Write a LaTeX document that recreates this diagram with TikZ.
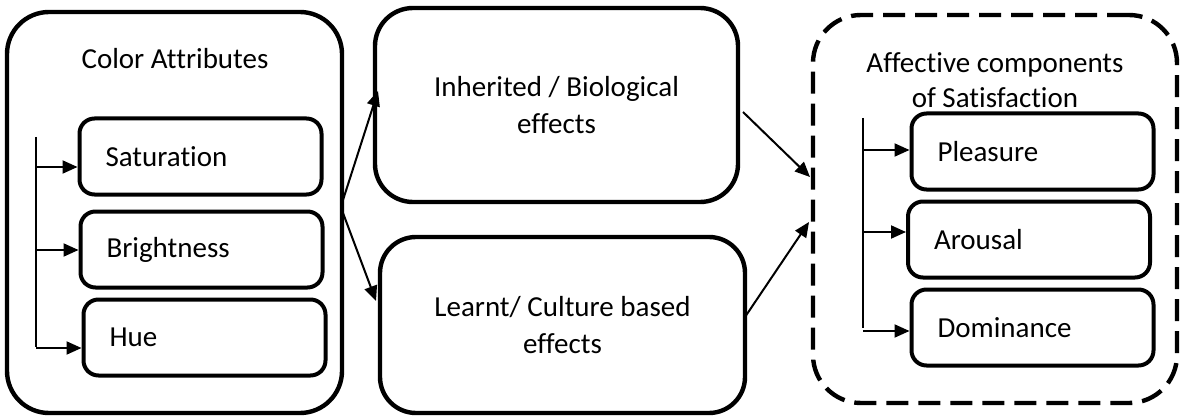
\documentclass[tikz,border=0pt]{standalone}
\usepackage{fontspec}
\setmainfont{Carlito}[Ligatures=NoCommon]
\usetikzlibrary{arrows.meta}
\begin{document}
\begin{tikzpicture}[x=1pt,y=-1pt,
  txt/.style={font=\fontsize{29}{35}\selectfont, inner sep=0pt},
  outerbox/.style={draw, line width=4.4pt, rounded corners=42pt, inner sep=0pt, font=\fontsize{29}{37}\selectfont, align=center},
  dashbox/.style={draw, line width=4.4pt, rounded corners=48pt, inner sep=0pt, dash pattern=on 22pt off 10pt},
  itembox/.style={draw, line width=4pt, rounded corners=15pt, inner ysep=0pt, inner xsep=26pt,
     text width=190pt, minimum height=76pt, align=left, font=\fontsize{29}{36}\selectfont},
  arr/.style={line width=2pt, -{Triangle[length=15pt,width=13pt]}},
  thin/.style={line width=1.3pt}
]
\useasboundingbox (0,0) rectangle (1181,417);

% left container
\node[outerbox, minimum width=335pt, minimum height=401pt] (lb) at (174.5,212.5) {};
\node[txt, anchor=base] (lbt) at (175,69) {Color Attributes};
\node[itembox] (sat) at (200.5,156.5) {Saturation};
\node[itembox] (bri) at (201.5,249.5) {Brightness};
\node[itembox] (hue) at (204.5,337.5) {Hue};

% middle boxes
\node[outerbox, rounded corners=38pt, minimum width=363pt, minimum height=194pt] (mt) at (556.5,105) {Inherited / Biological\\effects};
\node[outerbox, rounded corners=36pt, minimum width=365pt, minimum height=176pt] (mb) at (562.5,325) {Learnt/ Culture based\\effects};

% right container
\node[dashbox, minimum width=364pt, minimum height=388pt] (rb) at (995,209) {};
\node[txt, align=center, anchor=base] (rbt) at (995,108) {Affective components\\of Satisfaction};
\node[itembox] (ple) at (1032.5,151.5) {Pleasure};
\node[itembox] (aro) at (1029,239.5) {Arousal};
\node[itembox] (dom) at (1032.5,327.5) {Dominance};

% left fork
\coordinate (lv1) at (36,137);
\coordinate (lv2) at (36,347);
\draw[thin] (lv1) -- (lv2);
\coordinate (la1) at (36,167);
\coordinate (la2) at (35,250);
\coordinate (la3) at (36,348);
\draw[arr] (la1) -- (la1 -| sat.west);
\draw[arr] (la2) -- (la2 -| bri.west);
\draw[arr] (la3) -- (la3 -| hue.west);

% right fork
\coordinate (rv1) at (863,118);
\coordinate (rv2) at (863,328);
\draw[thin] (rv1) -- (rv2);
\coordinate (ra1) at (863,150);
\coordinate (ra2) at (862,232);
\coordinate (ra3) at (863,331);
\draw[arr] (ra1) -- (ra1 -| ple.west);
\draw[arr] (ra2) -- (ra2 -| aro.west);
\draw[arr] (ra3) -- (ra3 -| dom.west);

% left to middle
\coordinate (f1) at (343,200);
\coordinate (f2) at (343,213);
\coordinate (h1) at (378,91);
\coordinate (h2) at (376,301);
\draw[arr] (f1) -- (h1);
\draw[arr] (f2) -- (h2);

% middle to right
\coordinate (g1) at (743,112);
\coordinate (g2) at (745,317);
\coordinate (k1) at (810,177);
\coordinate (k2) at (809,222);
\draw[arr] (g1) -- (k1);
\draw[arr] (g2) -- (k2);
\end{tikzpicture}
\end{document}
